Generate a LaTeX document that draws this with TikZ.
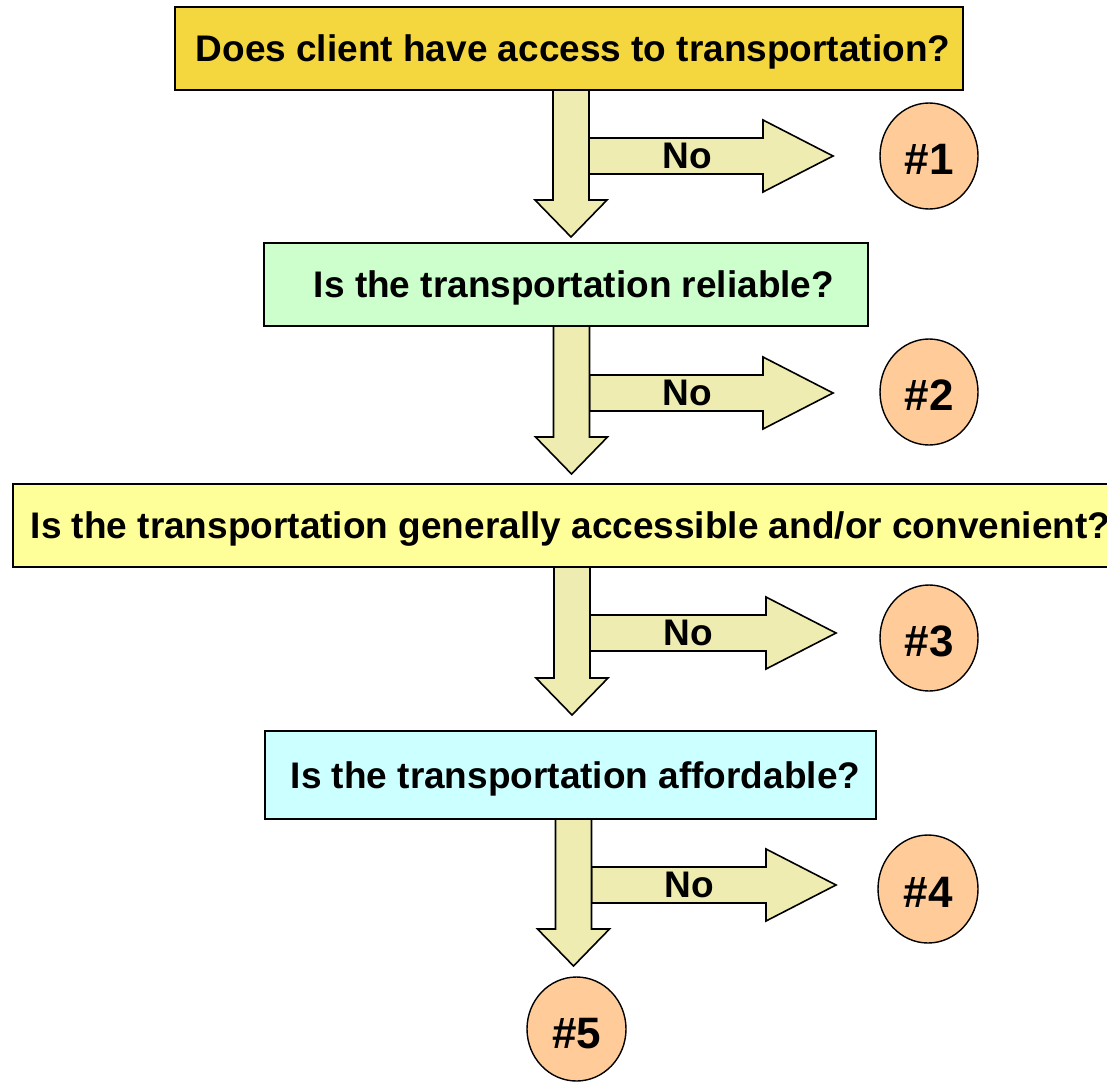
\documentclass[tikz,border=0pt]{standalone}
\usepackage{fontspec}
\setmainfont{Liberation Sans}
\usetikzlibrary{calc,shapes.geometric}
\definecolor{goldq}{HTML}{F4D73E}
\definecolor{greenq}{HTML}{CCFFCC}
\definecolor{yellowq}{HTML}{FFFF99}
\definecolor{cyanq}{HTML}{CCFFFF}
\definecolor{arrowfill}{HTML}{EEECB0}
\definecolor{circfill}{HTML}{FFCC99}
\newcommand\dnblock[2]{%
  \draw[blk] let \p1=(#1), \p2=(#2) in
    (\x1-18pt,\y1) -- (\x1-18pt,\y2+37pt) -- (\x1-36pt,\y2+37pt) -- (\x2,\y2)
    -- (\x1+36pt,\y2+37pt) -- (\x1+18pt,\y2+37pt) -- (\x1+18pt,\y1) -- cycle;}
\newcommand\rtblock[2]{%
  \draw[blk] let \p1=(#1), \p2=(#2) in
    (\x1,\y1+18pt) -- (\x2-70pt,\y1+18pt) -- (\x2-70pt,\y1+36pt) -- (\x2,\y2)
    -- (\x2-70pt,\y1-36pt) -- (\x2-70pt,\y1-18pt) -- (\x1,\y1-18pt) -- cycle
    (\x1+98pt,\y1) node[txt] {No};}
\begin{document}
\begin{tikzpicture}[x=1pt,y=-1pt,
  txt/.style={font=\fontsize{37}{40}\selectfont\bfseries, text=black, inner sep=0pt, text depth=0pt},
  qbox/.style={draw=black, line width=1.6pt, inner sep=0pt, text depth=0pt, font=\fontsize{37}{40}\selectfont\bfseries},
  outc/.style={ellipse, draw=black, line width=1.4pt, fill=circfill, inner sep=0pt,
    minimum width=98pt, minimum height=106pt, font=\fontsize{44}{48}\selectfont\bfseries},
  olbl/.style={font=\fontsize{44}{48}\selectfont\bfseries, inner sep=0pt, text depth=0pt},
  blk/.style={draw=black, line width=1.6pt, fill=arrowfill, line join=miter}]
\useasboundingbox (0,0) rectangle (1107,1081);
\fill[white] (0,0) rectangle (1107,1081);
% arrow end points
\coordinate (d1s) at (571,90);   \coordinate (d1e) at (571,237);
\coordinate (r1s) at (589,156);  \coordinate (r1e) at (833,156);
\coordinate (d2s) at (571.5,326); \coordinate (d2e) at (571.5,474);
\coordinate (r2s) at (589.5,393); \coordinate (r2e) at (833,393);
\coordinate (d3s) at (572,567);  \coordinate (d3e) at (572,715);
\coordinate (r3s) at (590,633);  \coordinate (r3e) at (836,633);
\coordinate (d4s) at (573.5,819); \coordinate (d4e) at (573.5,966);
\coordinate (r4s) at (591.5,885); \coordinate (r4e) at (836,885);
% connectors
\rtblock{r1s}{r1e}
\dnblock{d1s}{d1e}
\rtblock{r2s}{r2e}
\dnblock{d2s}{d2e}
\rtblock{r3s}{r3e}
\dnblock{d3s}{d3e}
\rtblock{r4s}{r4e}
\dnblock{d4s}{d4e}
% question boxes
\node[qbox, fill=goldq, minimum width=788pt, minimum height=83pt] (q1) at (569,48.5)
  {\hspace*{8pt}Does client have access to transportation?};
\node[qbox, fill=greenq, minimum width=604pt, minimum height=83pt] (q2) at (566,284.5)
  {\hspace*{16pt}Is the transportation reliable?};
\node[qbox, fill=yellowq, minimum height=83pt, inner xsep=18pt, anchor=west] (q3) at (12,525.5)
  {Is the transportation generally accessible and/or convenient?};
\node[qbox, fill=cyanq, minimum width=611pt, minimum height=88pt] (q4) at (570.5,775)
  {\hspace*{10pt}Is the transportation affordable?};
% outcomes
\node[outc] (o1) at (929,156) {};
\node[outc] (o2) at (929,392) {};
\node[outc] (o3) at (929,638) {};
\node[outc, minimum width=100pt, minimum height=108pt] (o4) at (928,889) {};
\node[outc, minimum width=99pt, minimum height=104pt] (o5) at (576.5,1029) {};
\node[olbl] at ([yshift=-3pt]o1.center) {\#1};
\node[olbl] at ([yshift=-3pt]o2.center) {\#2};
\node[olbl] at ([yshift=-3pt]o3.center) {\#3};
\node[olbl] at ([yshift=-3pt]o4.center) {\#4};
\node[olbl] at ([yshift=-4pt]o5.center) {\#5};
\end{tikzpicture}
\end{document}
